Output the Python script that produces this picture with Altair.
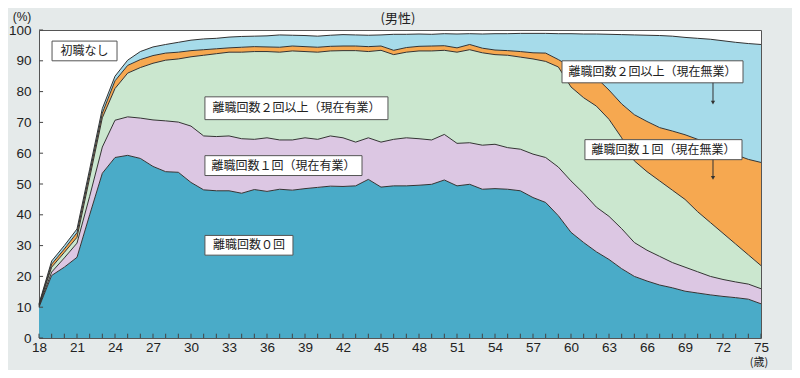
import altair as alt
import pandas as pd

# ---------------- data ----------------
ages = list(range(18, 76))

# upper edge (cumulative %) of each stacked band, age 18 .. 75
edge_0kai = [10.0, 20.3, 23.0, 26.2, 40.0, 53.5, 58.6, 59.3, 58.3, 55.7,
             54.0, 53.8, 50.5, 48.1, 47.8, 47.8, 47.0, 48.2, 47.6, 48.3,
             48.0, 48.5, 48.9, 49.3, 49.2, 49.4, 51.5, 49.0, 49.4, 49.4,
             49.6, 49.9, 51.3, 49.4, 49.9, 48.3, 48.5, 48.3, 47.8, 45.6,
             44.0, 39.7, 34.3, 31.0, 28.0, 25.5, 22.5, 20.0, 18.5, 17.2,
             16.3, 15.2, 14.6, 14.0, 13.5, 13.1, 12.6, 11.1]
edge_1kai_yugyo = [10.3, 21.4, 26.0, 30.8, 46.0, 62.0, 70.7, 71.8, 71.4, 70.8,
                   70.5, 70.1, 68.8, 65.6, 65.4, 65.6, 64.7, 64.5, 65.0, 64.3,
                   64.3, 65.0, 64.5, 65.6, 65.0, 63.6, 65.0, 63.6, 64.5, 65.0,
                   64.7, 64.3, 66.1, 63.2, 63.4, 62.6, 62.9, 61.8, 61.3, 59.7,
                   58.6, 55.5, 51.0, 47.0, 42.5, 39.5, 35.5, 31.0, 28.5, 26.5,
                   24.5, 23.0, 21.5, 20.0, 19.0, 18.2, 17.5, 16.0]
edge_2kai_yugyo = [10.6, 23.0, 27.8, 32.7, 52.0, 71.5, 81.0, 86.0, 87.8, 89.2,
                   90.2, 90.6, 91.3, 91.8, 92.3, 92.8, 92.8, 93.0, 93.0, 92.8,
                   93.2, 93.0, 92.8, 93.2, 93.3, 93.3, 93.0, 93.4, 92.0, 92.8,
                   93.2, 93.2, 93.4, 92.8, 93.6, 92.6, 92.0, 91.8, 91.2, 90.6,
                   89.8, 88.0, 81.5, 78.0, 75.3, 71.0, 65.0, 57.5, 54.0, 51.0,
                   48.0, 45.0, 41.0, 37.5, 34.0, 30.5, 27.0, 23.5]
edge_1kai_mugyo = [10.8, 24.0, 28.9, 34.2, 53.5, 73.0, 83.5, 88.5, 90.4, 91.7,
                   92.5, 92.8, 93.3, 93.6, 93.9, 94.2, 94.4, 94.6, 94.5, 94.4,
                   94.8, 94.6, 94.4, 94.7, 94.8, 94.8, 94.6, 94.8, 93.4, 94.3,
                   94.7, 94.8, 94.9, 94.2, 95.3, 94.1, 93.5, 93.3, 93.0, 92.6,
                   92.5, 90.4, 88.0, 86.0, 84.5, 80.5, 76.0, 72.5, 70.3, 68.3,
                   67.2, 66.0, 64.5, 63.0, 61.5, 59.5, 58.0, 57.0]
edge_2kai_mugyo = [11.1, 25.0, 30.0, 35.4, 54.8, 74.5, 85.0, 90.2, 93.0, 94.5,
                   95.3, 96.0, 96.7, 97.1, 97.3, 97.7, 97.9, 98.0, 98.1, 98.4,
                   98.3, 98.2, 98.0, 98.3, 98.5, 98.4, 98.3, 98.4, 98.6, 98.6,
                   98.7, 98.6, 98.8, 98.7, 98.8, 98.7, 98.8, 98.8, 98.9, 98.9,
                   98.9, 98.8, 98.8, 98.7, 98.7, 98.6, 98.5, 98.4, 98.3, 98.2,
                   98.0, 97.6, 97.3, 97.0, 96.5, 96.0, 95.6, 95.3]

bands = ["離職回数０回", "離職回数１回（現在有業）", "離職回数２回以上（現在有業）",
         "離職回数１回（現在無業）", "離職回数２回以上（現在無業）"]
band_colors = ["#4aabc8", "#dcc7e3", "#cbe7cf", "#f6a850", "#a6dbea"]

x_labels = list(range(18, 76, 3))
y_labels = list(range(0, 101, 10))

# label boxes (data units: age, %)
box_text = ["初職なし", "離職回数２回以上（現在有業）", "離職回数１回（現在有業）",
            "離職回数０回", "離職回数２回以上（現在無業）", "離職回数１回（現在無業）"]
box_x1 = [19.03, 31.1, 31.1, 31.1, 59.29, 61.1]
box_x2 = [24.16, 45.55, 43.5, 38.05, 73.58, 73.5]
box_y1 = [90.0, 70.9, 52.75, 26.9, 82.85, 57.9]
box_y2 = [96.4, 78.3, 59.2, 33.3, 90.0, 64.4]

arrow_x = [71.21, 71.21]
arrow_top = [82.85, 57.9]
arrow_end = [76.4, 52.0]

# ---------------- build tables ----------------
edges = [[0.0] * len(ages), edge_0kai, edge_1kai_yugyo, edge_2kai_yugyo,
         edge_1kai_mugyo, edge_2kai_mugyo]
rows = []
for i, name in enumerate(bands):
    for a, lo, hi in zip(ages, edges[i], edges[i + 1]):
        rows.append({"age": a, "band": name, "lo": lo, "hi": hi})
df = pd.DataFrame(rows)

boxes = pd.DataFrame({"t": box_text, "x1": box_x1, "x2": box_x2,
                      "y1": box_y1, "y2": box_y2})
boxes["cx"] = (boxes.x1 + boxes.x2) / 2
boxes["cy"] = (boxes.y1 + boxes.y2) / 2
arrows = pd.DataFrame({"x": arrow_x, "top": arrow_top, "end": arrow_end})

xs = alt.Scale(domain=[18, 75], nice=False, zero=False)
ys = alt.Scale(domain=[0, 100], nice=False)

FONT = "Liberation Sans"
JP = "Noto Sans CJK JP"

xaxis = alt.Axis(values=x_labels, title=None, grid=False, domain=False, ticks=False,
                 labelFont=FONT, labelFontSize=13.5, labelColor="#222",
                 labelPadding=2, labelFlush=False, labelOverlap=False, labelBound=False)
yaxis = alt.Axis(values=y_labels, title=None, grid=False, domain=False, ticks=False,
                 labelFont=FONT, labelFontSize=13.5, labelColor="#222",
                 labelPadding=8, labelOverlap=False, labelBound=False)


def X(field):
    return alt.X(field, scale=xs, axis=xaxis)


def Y(field):
    return alt.Y(field, scale=ys, axis=yaxis)


areas = alt.Chart(df).mark_area(interpolate="linear", opacity=1).encode(
    x=X("age:Q"), y=Y("hi:Q"), y2="lo:Q",
    color=alt.Color("band:N", scale=alt.Scale(domain=bands, range=band_colors), legend=None),
)

lines = alt.Chart(df[df.band != bands[0]]).mark_line(
    color="#333", strokeWidth=1).encode(x=X("age:Q"), y=Y("lo:Q"), detail="band:N")
top_line = alt.Chart(df[df.band == bands[-1]]).mark_line(
    color="#333", strokeWidth=1).encode(x=X("age:Q"), y=Y("hi:Q"))

xt = alt.Chart(pd.DataFrame({"age": ages})).mark_rule(color="#444", strokeWidth=1).encode(
    x=X("age:Q"), y=alt.datum(0, scale=ys, axis=yaxis), y2=alt.datum(1.4))
yt = alt.Chart(pd.DataFrame({"v": y_labels})).mark_rule(color="#444", strokeWidth=1).encode(
    y=Y("v:Q"), x=alt.datum(18, scale=xs, axis=xaxis), x2=alt.datum(18.32))

rects = alt.Chart(boxes).mark_rect(fill="white", stroke="#555", strokeWidth=1).encode(
    x=X("x1:Q"), x2="x2:Q", y=Y("y1:Q"), y2="y2:Q")
texts = alt.Chart(boxes).mark_text(font=JP, fontSize=12, color="#222",
                                   align="center", baseline="middle").encode(
    x=X("cx:Q"), y=Y("cy:Q"), text="t:N")

arrow_lines = alt.Chart(arrows).mark_rule(color="#333", strokeWidth=1).encode(
    x=X("x:Q"), y=Y("top:Q"), y2="end:Q")
arrow_heads = alt.Chart(arrows).mark_point(shape="triangle-down", filled=True,
                                           color="#333", size=18, opacity=1).encode(
    x=X("x:Q"), y=Y("end:Q"))

pct = alt.Chart(pd.DataFrame({"t": ["(%)"]})).mark_text(
    font=FONT, fontSize=12, color="#222", align="center", baseline="middle").encode(
    x=alt.value(-17), y=alt.value(-13), text="t:N")
title = alt.Chart(pd.DataFrame({"t": ["(男性)"]})).mark_text(
    font=JP, fontSize=13, color="#222", align="center", baseline="middle").encode(
    x=alt.value(359), y=alt.value(-11), text="t:N")
sai = alt.Chart(pd.DataFrame({"t": ["(歳)"]})).mark_text(
    font=JP, fontSize=11, color="#222", align="center", baseline="middle").encode(
    x=alt.value(720), y=alt.value(333), text="t:N")

chart = alt.layer(areas, lines, top_line, xt, yt, rects, texts, arrow_lines,
                  arrow_heads, pct, title, sai).properties(
    width=722, height=308,
    autosize=alt.AutoSizeParams(type="none"),
    padding={"left": 31, "top": 22, "right": 31, "bottom": 32},
    background="#e5eaea",
).configure_view(fill="white", stroke="#555", strokeWidth=1)

chart.save("out.html", embed_options={"renderer": "svg", "actions": False})
